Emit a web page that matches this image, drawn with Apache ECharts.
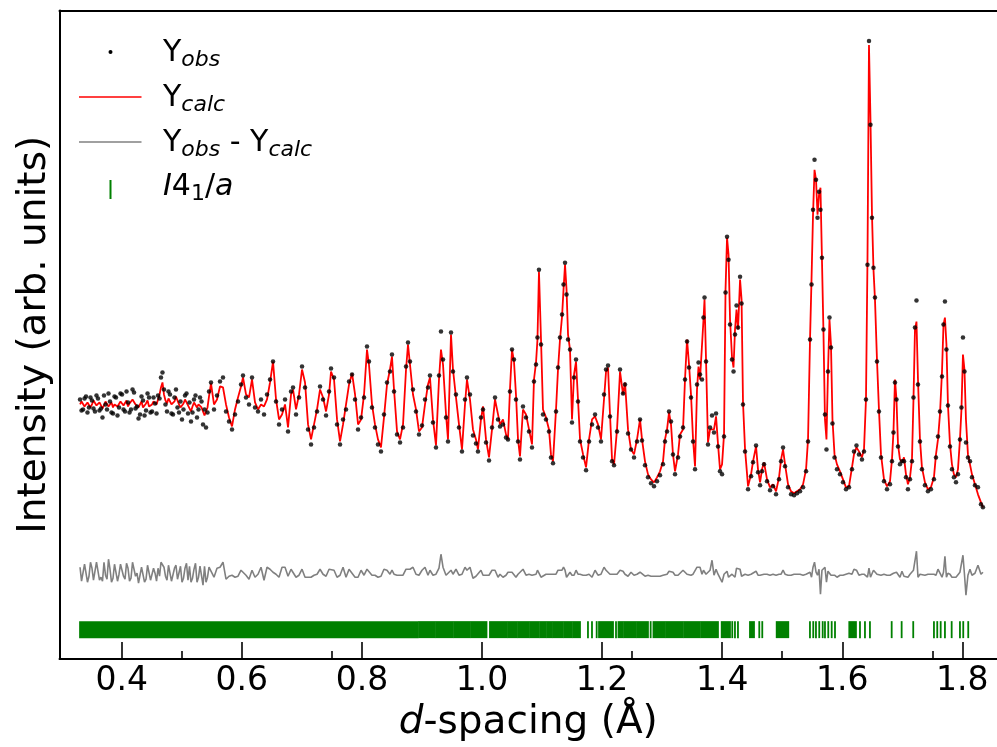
<!DOCTYPE html>
<html>
<head>
<meta charset="utf-8">
<title>Rietveld fit, I4_1/a</title>
<script src="https://cdn.jsdelivr.net/npm/echarts@6/dist/echarts.min.js"></script>
<style>
  html, body { margin: 0; padding: 0; background: #fff; }
  #container { width: 997px; height: 747px; }
</style>
</head>
<body>
<div id="container"></div>
<script>
const dSpacing = [
  0.3306,0.3331,0.3356,0.3381,0.3405,0.3430,0.3455,0.3480,0.3505,0.3530,
  0.3555,0.3580,0.3605,0.3630,0.3655,0.3680,0.3705,0.3730,0.3755,0.3780,
  0.3805,0.3830,0.3855,0.3880,0.3905,0.3930,0.3955,0.3980,0.4005,0.4030,
  0.4055,0.4080,0.4105,0.4130,0.4155,0.4180,0.4205,0.4230,0.4255,0.4280,
  0.4305,0.4330,0.4355,0.4380,0.4405,0.4430,0.4455,0.4480,0.4505,0.4530,
  0.4555,0.4580,0.4605,0.4630,0.4654,0.4679,0.4704,0.4729,0.4754,0.4779,
  0.4804,0.4829,0.4854,0.4879,0.4904,0.4929,0.4954,0.4979,0.5004,0.5029,
  0.5054,0.5079,0.5104,0.5129,0.5154,0.5179,0.5204,0.5229,0.5254,0.5279,
  0.5304,0.5329,0.5354,0.5379,0.5404,0.5429,0.5454,
  0.5487,0.5537,0.5587,0.5637,0.5687,0.5737,0.5787,0.5837,0.5887,0.5937,0.5987,0.6020,0.6070,0.6120,0.6170,0.6220,0.6270,0.6320,0.6370,0.6420,0.6470,0.6520,0.6570,0.6620,0.6670,0.6720,0.6770,0.6820,0.6853,0.6903,0.6953,
  0.7003,0.7053,0.7103,0.7153,0.7203,0.7253,0.7303,0.7353,0.7403,0.7453,0.7486,0.7536,0.7586,0.7636,0.7686,0.7736,0.7786,0.7836,0.7886,0.7936,0.7986,0.8036,
  0.8085,0.8118,0.8168,0.8218,0.8268,0.8318,0.8368,0.8418,0.8468,0.8501,0.8535,0.8585,0.8635,0.8685,0.8735,0.8768,0.8801,0.8851,0.8901,0.8951,0.9001,0.9051,0.9101,
  0.9134,0.9184,0.9234,0.9284,0.9317,0.9351,0.9401,0.9434,0.9484,0.9517,0.9567,0.9617,0.9667,0.9717,0.9750,0.9800,0.9850,0.9900,0.9933,0.9983,1.0017,1.0067,1.0117,1.0167,1.0217,1.0267,
  1.0300,1.0350,1.0400,1.0433,1.0466,1.0500,1.0533,1.0566,1.0600,1.0633,1.0683,1.0733,1.0783,1.0833,1.0866,1.0900,1.0924,1.0949,1.0983,1.1016,1.1066,1.1116,1.1149,1.1183,
  1.1233,1.1266,1.1299,1.1333,1.1358,1.1383,1.1408,1.1433,1.1466,1.1499,1.1533,1.1566,1.1599,1.1633,1.1683,1.1733,1.1783,1.1833,1.1883,1.1932,1.1982,1.2032,1.2066,1.2099,1.2132,1.2166,1.2199,1.2249,1.2299,1.2349,1.2382,1.2432,1.2482,1.2532,1.2582,1.2632,
  1.2665,1.2715,1.2765,1.2815,1.2865,1.2915,1.2965,1.3015,1.3048,1.3082,1.3115,1.3148,1.3181,1.3215,1.3265,1.3298,1.3348,1.3381,1.3415,1.3448,1.3481,1.3515,1.3548,1.3581,1.3606,1.3631,1.3664,
  1.3689,1.3706,1.3731,1.3764,1.3798,1.3831,1.3864,1.3898,1.3931,1.3964,1.3998,1.4031,1.4056,1.4081,1.4106,1.4131,1.4164,1.4189,1.4214,1.4239,1.4264,1.4298,1.4323,
  1.4347,1.4381,1.4431,1.4481,1.4514,1.4564,1.4597,1.4631,1.4664,1.4697,1.4747,1.4797,1.4847,1.4897,1.4947,1.4981,1.5014,1.5047,1.5097,1.5147,1.5197,1.5247,1.5297,1.5347,1.5397,1.5430,
  1.5463,1.5488,1.5513,1.5538,1.5563,1.5588,1.5613,1.5637,1.5662,1.5687,1.5712,1.5737,1.5762,1.5787,1.5812,1.5837,1.5871,1.5912,1.5962,1.6012,1.6062,1.6112,1.6162,1.6195,1.6237,1.6278,1.6328,1.6362,1.6395,
  1.6420,1.6445,1.6470,1.6495,1.6520,1.6545,1.6578,1.6611,1.6645,1.6695,1.6745,1.6795,1.6828,1.6853,1.6878,1.6903,1.6928,1.6961,1.6994,1.7028,1.7061,1.7094,1.7128,1.7161,1.7186,1.7211,1.7236,1.7261,1.7294,1.7327,
  1.7377,1.7427,1.7477,1.7527,1.7561,1.7594,1.7627,1.7661,1.7686,1.7710,1.7735,1.7760,1.7794,1.7827,1.7860,1.7894,1.7927,1.7960,1.7985,1.8010,1.8035,1.8060,1.8093,1.8127,1.8160,1.8210,1.8260,1.8310,1.8343
]

// observed intensity (arb. units)
const yObs = [
  260,249,250,261,263,247,252,262,259,251,
  248,264,261,249,251,242,264,255,250,266,
  258,247,246,263,262,244,252,266,265,250,
  248,268,257,247,250,270,267,251,253,241,
  245,263,259,244,249,266,262,247,248,262,
  256,246,264,261,282,287,270,255,248,268,
  265,246,245,262,270,252,247,258,240,250,
  264,266,246,257,238,247,260,264,242,250,
  262,258,235,250,232,247,268,
  277,250,264,278,282,248,238,230,245,258,275,284,262,255,282,252,248,260,245,265,280,298,258,235,250,260,228,268,272,245,262,
  293,272,230,215,232,248,273,260,244,268,291,282,235,215,240,250,278,285,260,230,242,262,
  313,298,252,232,215,208,245,277,288,305,268,225,217,232,293,317,298,270,248,225,234,260,272,
  284,237,212,284,328,300,242,218,327,288,265,232,208,260,282,265,224,216,208,242,250,217,199,232,262,240,
  233,235,222,220,268,310,300,260,218,200,253,242,228,212,278,295,322,390,315,245,240,228,202,196,
  248,292,322,345,375,397,365,320,310,237,282,300,258,218,202,189,218,235,245,232,218,265,290,294,243,198,194,228,290,266,275,226,210,202,218,240,
  219,194,182,176,173,178,184,195,218,228,248,238,205,185,202,223,232,280,318,292,262,218,190,275,297,285,280,
  342,362,298,215,232,244,227,246,213,188,185,223,367,423,400,335,300,288,325,354,332,383,356,
  255,208,170,183,197,214,187,174,188,195,178,169,173,165,180,198,212,193,172,165,164,166,168,172,188,218,
  320,375,450,500,480,442,468,450,402,330,245,210,288,342,312,236,202,190,185,177,170,172,190,208,214,205,200,208,260,
  395,619,535,442,392,362,298,248,202,178,170,175,198,227,277,260,213,195,198,198,182,170,180,198,262,332,359,275,218,190,
  174,168,170,180,202,223,248,283,335,358,310,254,213,190,182,177,185,220,252,322,288,217,202,198,182,174,172,155,152
]

// calculated intensity (arb. units)
const yCalc = [
  255,258,257,253,254,257,256,252,255,259,
  258,254,253,257,256,251,254,258,257,253,
  255,257,252,255,256,253,254,258,257,254,
  255,259,253,256,256,260,258,255,254,252,
  255,258,252,254,256,259,253,255,255,258,
  257,255,260,265,272,277,265,259,256,261,
  259,255,253,258,263,259,255,252,250,256,
  260,257,254,251,248,253,257,255,252,255,
  256,252,248,244,242,252,263,
  276,255,260,273,272,255,242,233,250,262,273,282,265,262,280,257,250,255,253,260,277,298,260,240,245,255,232,265,270,250,265,
  290,277,235,220,235,250,270,262,248,265,288,280,240,218,235,255,275,286,265,235,240,265,
  310,295,255,235,220,212,242,275,290,303,270,228,220,235,290,315,295,265,250,228,232,255,275,
  282,240,214,280,310,295,245,220,325,290,262,235,210,255,280,260,230,220,210,240,253,220,202,230,260,245,
  235,240,225,220,270,310,298,265,220,203,250,245,230,215,280,297,320,388,320,250,242,230,205,198,
  250,290,320,343,370,395,370,325,310,240,285,298,260,220,205,192,220,240,243,235,220,260,288,292,245,200,195,230,288,265,277,230,210,205,220,240,
  220,198,185,180,177,182,188,198,220,230,247,235,205,188,205,225,230,280,320,295,265,220,193,270,293,280,282,
  340,360,300,217,230,232,230,243,215,190,195,225,370,422,405,340,302,292,330,350,330,380,360,
  257,210,173,185,198,213,190,177,190,197,180,172,175,168,182,200,210,195,175,168,166,168,170,175,190,220,
  320,380,445,490,480,445,465,472,400,327,240,220,287,340,315,240,205,195,188,180,172,173,192,205,212,208,202,210,260,
  400,615,540,445,390,360,300,250,205,180,173,178,200,228,280,260,215,200,197,202,185,175,182,200,260,330,338,280,220,192,
  177,170,172,182,205,220,245,288,335,342,315,255,215,195,185,182,190,220,250,305,290,240,205,195,185,175,165,157,152
]

// I4_1/a reflection positions: ranges where the ticks merge, then single ticks (Å)
const reflBands = [
  [0.3306,0.8926],[0.8951,0.9209],[0.9234,0.9517],[0.9542,0.9792],[0.9817,1.0075],
  [1.0133,1.0408],[1.0433,1.0583],[1.0608,1.0783],[1.0808,1.0949],[1.0974,1.1066],
  [1.1091,1.1157],[1.1182,1.1341],[1.1366,1.1491],[1.1516,1.1632],[1.1949,1.2182],
  [1.2273,1.2348],[1.2373,1.2565],[1.2590,1.2764],[1.2856,1.3048],[1.3073,1.3347],
  [1.3372,1.3630],[1.3655,1.3930],[1.3992,1.4130],[1.4463,1.4530],[1.4908,1.5101],
  [1.6117,1.6228]
]
const reflPeaks = [
  1.1765,1.1832,1.1910,1.2232,1.2809,1.4168,1.4213,1.4263,1.4618,1.4668,
  1.5462,1.5517,1.5562,1.5617,1.5674,1.5712,1.5767,1.5824,1.5879,
  1.6295,1.6378,1.6461,1.6823,1.6989,1.7182,1.7527,1.7582,1.7639,1.7710,
  1.7822,1.7960,1.8015,1.8098
]

const majorTicks = [0.4, 0.6, 0.8, 1.0, 1.2, 1.4, 1.6, 1.8]
const minorTicks = [0.5, 0.75, 1.25, 1.5, 1.75]

// where the difference curve and the reflection row sit on the intensity scale
const diffOffset = 87
const tickRow = [21, 38]

const font = 'DejaVu Sans'
const xMin = 0.2964
const xMax = 1.8577

let chartDom = document.getElementById('container')
let myChart = echarts.init(chartDom, null, { renderer: 'canvas' })

const obsData = dSpacing.map((d, i) => [d, yObs[i]])
const calcData = dSpacing.map((d, i) => [d, yCalc[i]])
const diffData = dSpacing.map((d, i) => [d, diffOffset + yObs[i] - yCalc[i]])
const reflData = reflBands.concat(reflPeaks.map(d => [d, d]))

const black = { color: '#000', width: 2 }

let option = {
  animation: false,
  backgroundColor: '#fff',
  grid: { left: 59.5, right: 0, top: 10.5, bottom: 87 },
  xAxis: [
    {
      type: 'value', min: xMin, max: xMax, position: 'bottom',
      axisLine: { show: true, onZero: false, lineStyle: black },
      axisTick: { show: true, inside: true, length: 17, customValues: majorTicks, lineStyle: { color: '#000', width: 1.6 } },
      axisLabel: {
        show: true, customValues: majorTicks, margin: 6,
        formatter: v => v.toFixed(1),
        fontSize: 33, fontFamily: font, color: '#000'
      },
      splitLine: { show: false },
      name: '{i|d}-spacing (Å)',
      nameLocation: 'middle', nameGap: 36,
      nameTextStyle: {
        fontSize: 39, fontFamily: font, color: '#000',
        rich: { i: { fontSize: 39, fontFamily: font, fontStyle: 'italic', color: '#000' } }
      }
    },
    {
      // shorter ticks
      type: 'value', min: xMin, max: xMax, position: 'bottom',
      axisLine: { show: false, onZero: false },
      axisTick: { show: true, inside: true, length: 8, customValues: minorTicks, lineStyle: { color: '#000', width: 1.6 } },
      axisLabel: { show: false },
      splitLine: { show: false }
    },
    {
      // top frame line
      type: 'value', min: xMin, max: xMax, position: 'top',
      axisLine: { show: true, onZero: false, lineStyle: black },
      axisTick: { show: false },
      axisLabel: { show: false },
      splitLine: { show: false }
    }
  ],
  yAxis: {
    type: 'value', min: 0, max: 649.5,
    axisLine: { show: true, onZero: false, lineStyle: black },
    axisTick: { show: false },
    axisLabel: { show: false },
    splitLine: { show: false },
    name: 'Intensity (arb. units)',
    nameLocation: 'middle', nameGap: 5,
    nameTextStyle: { fontSize: 39, fontFamily: font, color: '#000' }
  },
  series: [
    {
      name: 'Ycalc', type: 'line', data: calcData,
      showSymbol: false, symbol: 'none',
      lineStyle: { color: '#ff0000', width: 1.8 },
      z: 3
    },
    {
      name: 'Yobs', type: 'scatter', data: obsData,
      symbol: 'circle', symbolSize: 4.5,
      itemStyle: { color: '#000' },
      z: 4
    },
    {
      name: 'Yobs - Ycalc', type: 'line', data: diffData,
      showSymbol: false, symbol: 'none',
      lineStyle: { color: '#808080', width: 1.6 },
      z: 3
    },
    {
      name: 'I41/a', type: 'custom', data: reflData,
      encode: { x: [0, 1] },
      renderItem: function(params, api) {
        let lo = api.coord([api.value(0), tickRow[0]])
        let hi = api.coord([api.value(1), tickRow[1]])
        return {
          type: 'rect',
          shape: { x: lo[0] - 0.9, y: hi[1], width: hi[0] - lo[0] + 1.8, height: lo[1] - hi[1] },
          style: { fill: '#008000' }
        }
      },
      z: 2
    }
  ],
  // legend drawn by hand so the subscripts match
  graphic: [
    { type: 'circle', shape: { cx: 110.5, cy: 52, r: 2 }, style: { fill: '#000' } },
    { type: 'line', shape: { x1: 79, y1: 97, x2: 141.5, y2: 97 }, style: { stroke: '#ff0000', lineWidth: 1.5 } },
    { type: 'line', shape: { x1: 79, y1: 142, x2: 141.5, y2: 142 }, style: { stroke: '#808080', lineWidth: 1.5 } },
    { type: 'line', shape: { x1: 110.5, y1: 180, x2: 110.5, y2: 199 }, style: { stroke: '#008000', lineWidth: 2 } },
    legendText(53, '{n|Y}{s|obs}'),
    legendText(98, '{n|Y}{s|calc}'),
    legendText(143, '{n|Y}{s|obs}{n| - Y}{s|calc}'),
    legendText(187, '{i|I}{n|4}{t|1}{n|/}{i|a}')
  ]
}

function legendText(y, text) {
  return {
    type: 'text', x: 163, y: y,
    style: {
      text: text, verticalAlign: 'middle', align: 'left', fill: '#000',
      rich: {
        n: { fontSize: 30, fontFamily: font, lineHeight: 37, fill: '#000' },
        i: { fontSize: 30, fontFamily: font, fontStyle: 'italic', lineHeight: 37, fill: '#000' },
        s: { fontSize: 22, fontFamily: font, fontStyle: 'italic', lineHeight: 23, verticalAlign: 'bottom', fill: '#000' },
        t: { fontSize: 22, fontFamily: font, lineHeight: 23, verticalAlign: 'bottom', fill: '#000' }
      }
    }
  }
}

option && myChart.setOption(option)
</script>
</body>
</html>
